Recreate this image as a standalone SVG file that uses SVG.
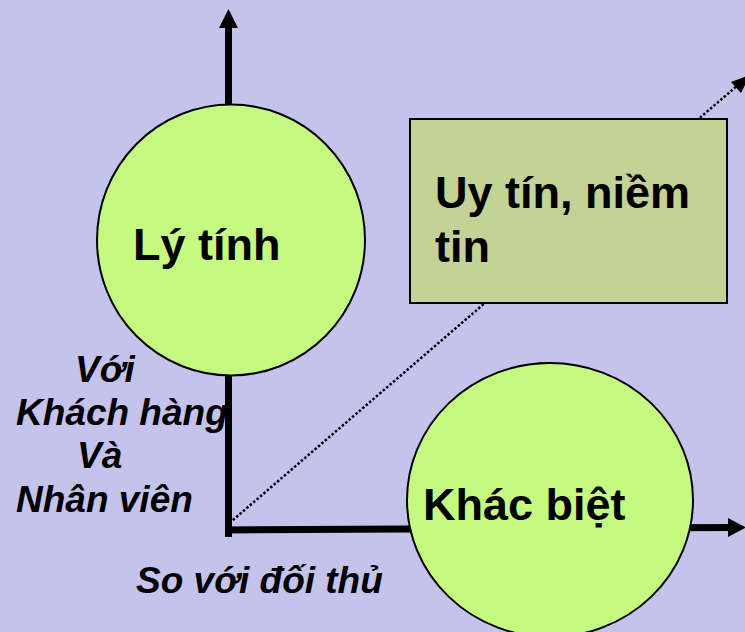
<svg xmlns="http://www.w3.org/2000/svg" width="745" height="632" viewBox="0 0 745 632">
  <style>
    .bg { fill: #c4c3eb; }
    .bubble { fill: #c5fa80; stroke: #000; stroke-width: 2; }
    .box { fill: #c3d396; stroke: #000; stroke-width: 2; }
    .axis { stroke: #000; stroke-width: 7; fill: none; }
    .dots { stroke: #000; stroke-width: 2.5; stroke-dasharray: 2.5 2; fill: none; }
    .head { fill: #000; }
    .big { font-family: "Liberation Sans", Arial, sans-serif; font-weight: bold; font-size: 45px; fill: #000; }
    .lab { font-family: "Liberation Sans", Arial, sans-serif; font-weight: bold; font-style: italic; font-size: 37px; fill: #000; }
  </style>

  <rect class="bg" x="0" y="0" width="745" height="632"/>

  <g id="connectors">
    <!-- vertical axis -->
    <line class="axis" x1="228.5" y1="537" x2="228.5" y2="24"/>
    <polygon class="head" points="228.5,9 238,28 219,28"/>
    <!-- horizontal axis -->
    <line class="axis" x1="225" y1="530" x2="730" y2="527.5"/>
    <polygon class="head" points="746,527.5 728,518 728,537"/>
    <!-- dotted diagonal -->
    <line class="dots" x1="226" y1="526" x2="738" y2="85"/>
    <polygon class="head" points="750,75 741,93 731,82"/>
  </g>

  <g id="node-ly-tinh">
    <ellipse class="bubble" cx="231" cy="240" rx="134" ry="135.5"/>
    <text class="big" x="133" y="260">Lý tính</text>
  </g>

  <g id="node-uy-tin">
    <rect class="box" x="410" y="119" width="317" height="184"/>
    <text class="big" x="435" y="208">Uy tín, niềm</text>
    <text class="big" x="435" y="262">tin</text>
  </g>

  <g id="node-khac-biet">
    <ellipse class="bubble" cx="550" cy="500" rx="143" ry="137"/>
    <text class="big" x="423" y="520">Khác biệt</text>
  </g>

  <g id="label-y">
    <text class="lab" x="75" y="382">Với</text>
    <text class="lab" x="16" y="425">Khách hàng</text>
    <text class="lab" x="77" y="468">Và</text>
    <text class="lab" x="16" y="512">Nhân viên</text>
  </g>

  <g id="label-x">
    <text class="lab" x="136" y="593">So với đối thủ</text>
  </g>
</svg>
